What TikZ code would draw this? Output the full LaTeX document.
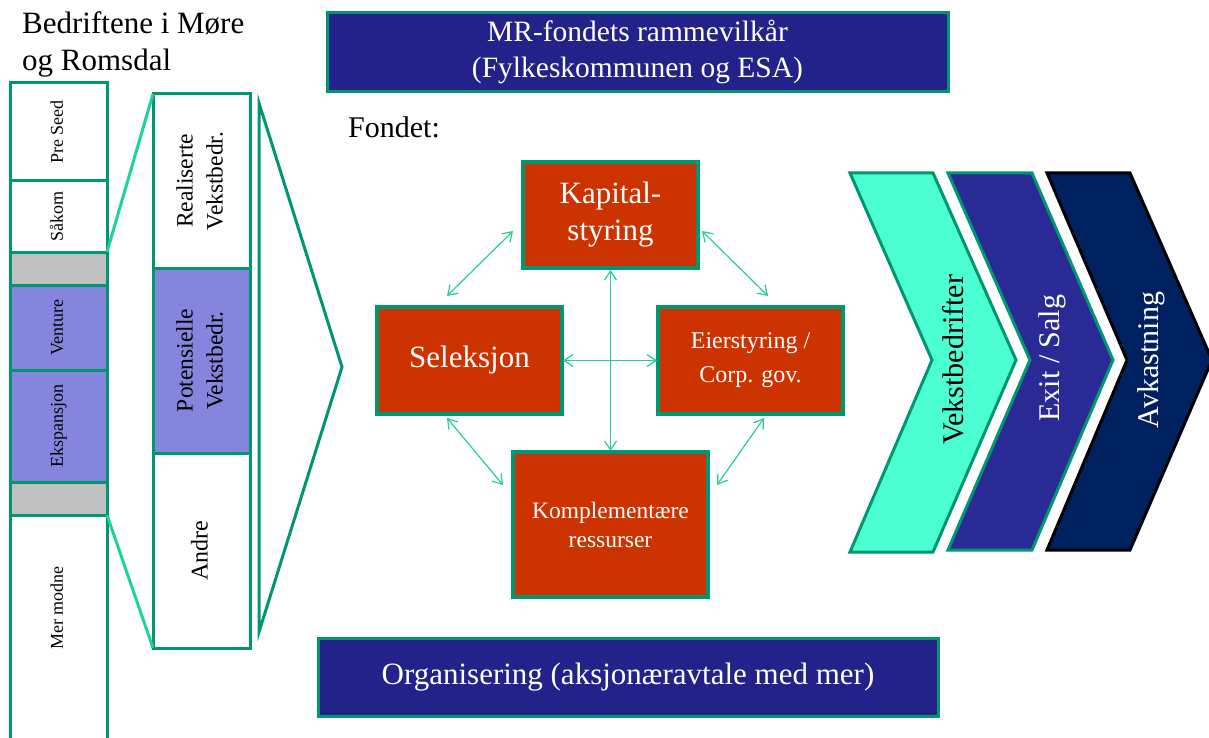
\documentclass[tikz,border=0pt]{standalone}
\usepackage{fontspec}
\setmainfont{Liberation Serif}
\usepackage{graphicx}
\usetikzlibrary{arrows.meta}
\definecolor{bord}{RGB}{0,150,112}
\definecolor{funnel}{RGB}{30,210,155}
\definecolor{lav}{RGB}{133,133,221}
\definecolor{greyb}{RGB}{192,192,192}
\definecolor{rust}{RGB}{204,51,0}
\definecolor{navyb}{RGB}{34,34,138}
\definecolor{aqua}{RGB}{76,255,210}
\definecolor{indigoc}{RGB}{42,42,150}
\definecolor{deepnavy}{RGB}{0,33,96}
\definecolor{arrc}{RGB}{40,205,150}
\newcommand\fs[2]{\fontsize{#1}{#2}\selectfont}
\newcommand\rt[1]{\rotatebox{90}{\begin{tabular}{@{}c@{}}#1\end{tabular}}}
\begin{document}
\begin{tikzpicture}[x=1pt,y=-1pt,
  bx/.style={draw=bord, line width=3pt, anchor=north west, inner sep=0pt, outer sep=0pt},
  redbox/.style={bx, fill=rust, text=white, align=center, line width=3.2pt},
  bluebox/.style={bx, fill=navyb, text=white, align=center},
  arr/.style={draw=arrc, line width=1.2pt, {Straight Barb[length=9pt,width=12pt]}-{Straight Barb[length=9pt,width=12pt]}},
  funline/.style={draw=funnel, line width=3pt},
  chev/.style={line width=3pt, line join=miter}]
\useasboundingbox (0,0) rectangle (1209,738);

% title
\node[anchor=north west, inner sep=0pt, align=left, font={\fs{31}{37}}] (title) at (22,11.5) {Bedriftene i Møre\\og Romsdal};

% left column
\node[bx, fill=white, minimum width=97, minimum height=98] (pre) at (10,83) {\fs{18}{22}\rt{Pre Seed}};
\node[bx, fill=white, minimum width=97, minimum height=71] (sak) at (10,181) {\fs{18}{22}\rt{Såkorn}};
\node[bx, fill=greyb, minimum width=97, minimum height=33] (g1) at (10,252) {};
\node[bx, fill=lav, minimum width=97, minimum height=85] (ven) at (10,285) {\fs{18}{22}\rt{Venture}};
\node[bx, fill=lav, minimum width=97, minimum height=112] (eks) at (10,370) {\fs{18}{22}\rt{Ekspansjon}};
\node[bx, fill=greyb, minimum width=97, minimum height=33] (g2) at (10,482) {};
\node[bx, fill=white, minimum width=97, minimum height=250] (mer) at (10,515) {};
\node (mertxt) at (58.5,608) {\fs{18}{22}\rt{Mer modne}};

% middle column
\node[bx, fill=white, minimum width=97, minimum height=174] (real) at (153,94) {\fs{23.5}{30}\rt{Realiserte\\Vekstbedr.}};
\node[bx, fill=lav, minimum width=97, minimum height=185] (pot) at (153,268) {\fs{23.5}{30}\rt{Potensielle\\Vekstbedr.}};
\node[bx, fill=white, minimum width=97, minimum height=195] (andre) at (153,453) {\fs{24}{30}\rt{Andre}};

\draw[funline] (sak.south east) -- (real.north west);
\draw[funline] (g2.south east) -- (andre.south west);

% big triangle
\draw[draw=bord, line width=3pt, line join=miter] (259,103) -- (342,367) -- (259,632) -- cycle;

% top box
\node[bluebox, minimum width=621, minimum height=79, font={\fs{29.5}{36}}] (mr) at (327,13) {MR-fondets rammevilkår\\(Fylkeskommunen og ESA)};
\node[anchor=base west, inner sep=0pt, font={\fs{30}{36}}] (fondet) at (348,138) {Fondet:};

% central boxes
\node[redbox, minimum width=175, minimum height=106, font={\fs{31}{37}}] (kap) at (523,162) {Kapital-\\styring};
\node[redbox, minimum width=185, minimum height=107, font={\fs{31}{37}}] (sel) at (377,307) {Seleksjon};
\node[redbox, minimum width=185, minimum height=107, font={\fs{24}{34}}] (eier) at (658,307) {Eierstyring /\\Corp. gov.};
\node[redbox, minimum width=195, minimum height=145, font={\fs{23.5}{29}}] (kom) at (513,452) {Komplementære\\ressurser};

% arrows
\draw[arr] ([shift={(-10,-37)}]kap.south west) -- ([shift={(70,-11)}]sel.north west);
\draw[arr] ([shift={(4,-37)}]kap.south east) -- ([shift={(110,-11)}]eier.north west);
\draw[arr] ([shift={(0,2)}]kap.south) -- ([shift={(0,-1)}]kom.north);
\draw[arr] ([shift={(1,0)}]sel.east) -- ([shift={(-1,0)}]eier.west);
\draw[arr] ([shift={(70,4)}]sel.south west) -- ([shift={(-10,33)}]kom.north west);
\draw[arr] ([shift={(106,4)}]eier.south west) -- ([shift={(9,33)}]kom.north east);

% bottom box
\node[bluebox, minimum width=620, minimum height=78, font={\fs{31}{37}}] (org) at (318,638) {Organisering (aksjonæravtale med mer)};

% chevrons
\draw[chev, draw=bord, fill=aqua] (850,173) -- (933,173) -- (1016,360) -- (933,552) -- (850,552) -- (932,360) -- cycle;
\draw[chev, draw=bord, fill=indigoc] (948,173) -- (1032,173) -- (1113,360) -- (1032,550) -- (948,550) -- (1030,360) -- cycle;
\draw[chev, draw=black, fill=deepnavy] (1047,173) -- (1130,173) -- (1212,360) -- (1130,550) -- (1047,550) -- (1127,360) -- cycle;
\node (vb) at (953,360) {\fs{30}{36}\rotatebox{90}{Vekstbedrifter}};
\node[text=white] (exit) at (1052,358) {\fs{30}{36}\rotatebox{90}{Exit / Salg}};
\node[text=white] (avk) at (1151,360) {\fs{30}{36}\rotatebox{90}{Avkastning}};
\end{tikzpicture}
\end{document}
